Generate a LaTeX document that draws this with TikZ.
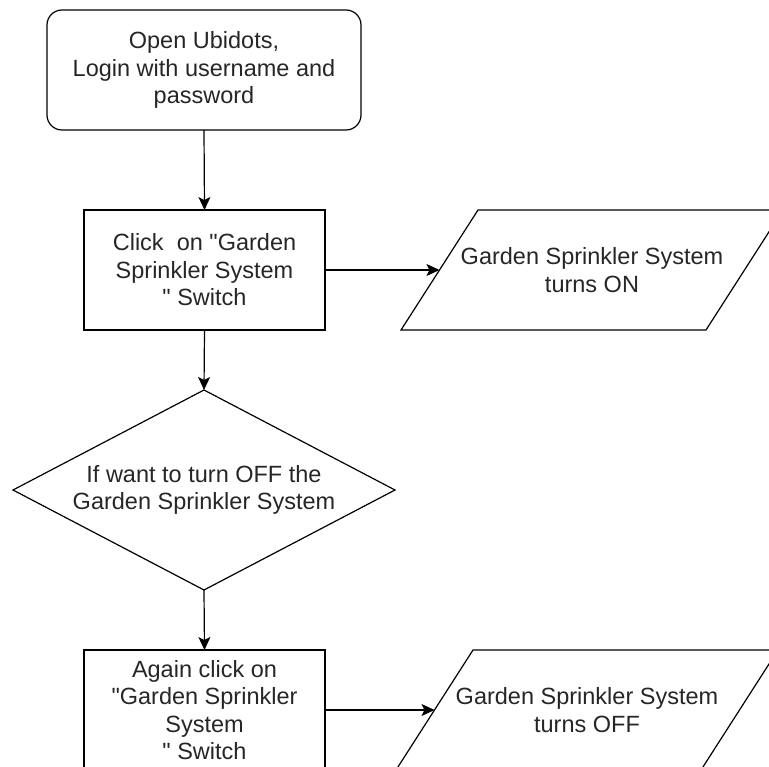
\documentclass[tikz,border=0pt]{standalone}
\usepackage{fontspec}
\newfontfamily\lsans{Liberation Sans}
\usetikzlibrary{shapes.geometric,arrows.meta}
\begin{document}
\begin{tikzpicture}[x=1pt,y=-1pt,
  every node/.style={font=\lsans\fontsize{23.5}{27.5}\selectfont, text=black!85, align=center, inner sep=0pt, outer sep=0pt},
  boxline/.style={draw=black, line width=1.2pt},
  roundbox/.style={boxline, rounded corners=15pt, minimum width=314pt, minimum height=120pt},
  procbox/.style={boxline, minimum width=241pt, minimum height=120pt},
  decbox/.style={boxline, diamond, aspect=1.91, minimum width=382pt, minimum height=200pt},
  iobody/.style={minimum width=305pt, minimum height=120pt},
  arr/.style={draw=black, line width=1.2pt, -{Stealth[length=13pt,width=12pt,inset=3pt]}}
]
\useasboundingbox (0,0) rectangle (769,767);
\clip (0,0) rectangle (769,767);

\node[roundbox] (start) at (204,70) {Open Ubidots,\\Login with username and\\password};
\node[procbox] (click1) at (204.5,270) {Click~ on "Garden\\Sprinkler System\\" Switch};
\node[iobody] (on) at (592,270) {Garden Sprinkler System\\turns ON};
\node[decbox] (dec) at (204,490) {If want to turn OFF the\\Garden Sprinkler System};
\node[procbox] (click2) at (204.5,710) {Again click on\\"Garden Sprinkler\\System\\" Switch};
\node[iobody] (off) at (587,710) {Garden Sprinkler System\\turns OFF};

\draw[boxline] ([xshift=-38.5pt]on.south west) -- ([xshift=38.5pt]on.north west) -- ([xshift=38.5pt]on.north east) -- ([xshift=-38.5pt]on.south east) -- cycle;
\draw[boxline] ([xshift=-38.5pt]off.south west) -- ([xshift=38.5pt]off.north west) -- ([xshift=38.5pt]off.north east) -- ([xshift=-38.5pt]off.south east) -- cycle;

\draw[arr] (start.south) -- (click1.north);
\draw[arr] (click1.east) -- (on.west);
\draw[arr] (click1.south) -- (dec.north);
\draw[arr] (dec.south) -- (click2.north);
\draw[arr] (click2.east) -- (off.west);
\end{tikzpicture}
\end{document}
